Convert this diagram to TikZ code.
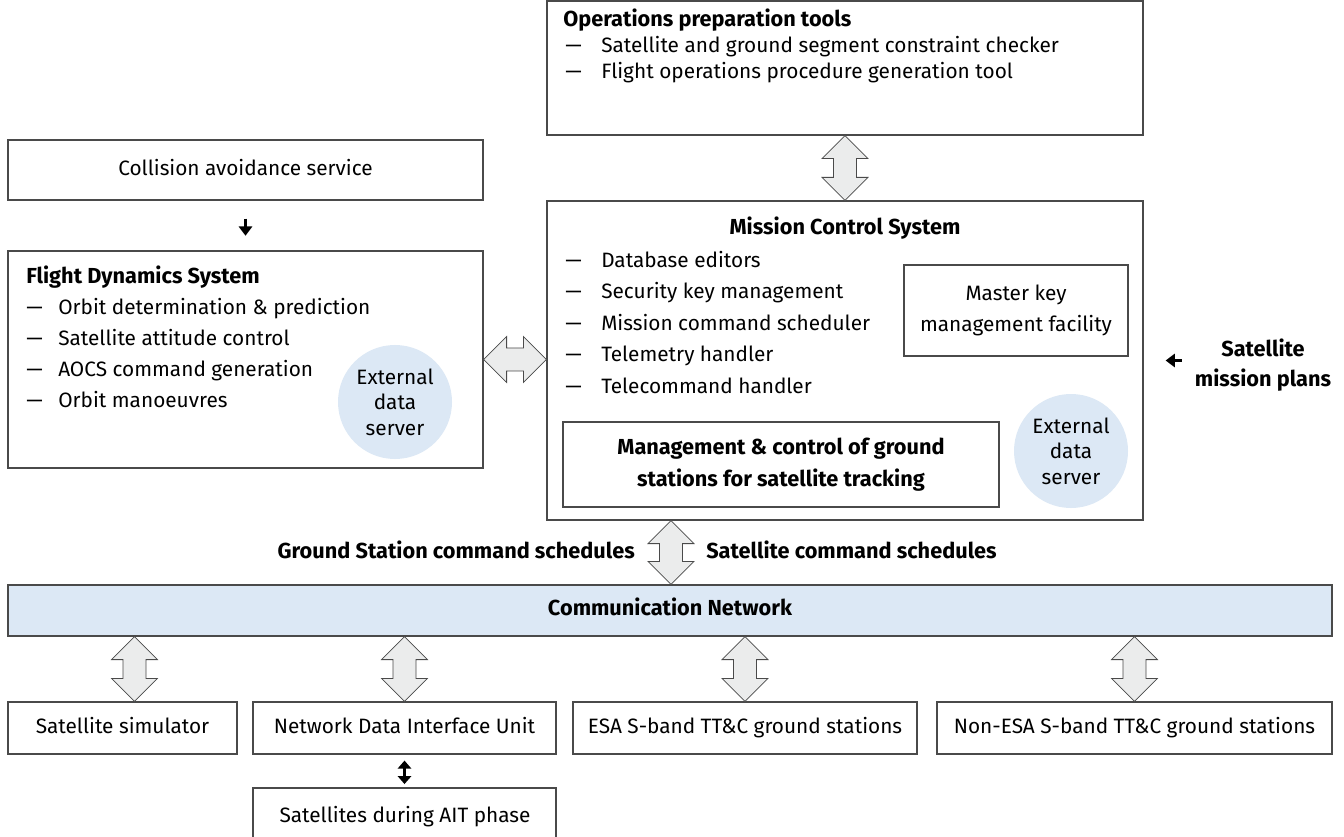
\documentclass[tikz,border=0pt]{standalone}
\usepackage{fontspec}
\setmainfont{Fira Sans}
\usetikzlibrary{positioning,arrows.meta,fit,calc}

\definecolor{netblue}{HTML}{DCE8F5}
\definecolor{arrgray}{HTML}{EBECEC}
\definecolor{edgegray}{HTML}{4A4A4A}

% hollow block arrows between two anchor points
\newcommand\vlink[2]{%
  \draw[blk] (#1) -- ($(#1)+(23,23)$) -- ($(#1)+(11.5,23)$) -- ($(#2)+(11.5,-23)$)
    -- ($(#2)+(23,-23)$) -- (#2) -- ($(#2)+(-23,-23)$) -- ($(#2)+(-11.5,-23)$)
    -- ($(#1)+(-11.5,23)$) -- ($(#1)+(-23,23)$) -- cycle;}
\newcommand\hlink[2]{%
  \draw[blk] (#1) -- ($(#1)+(23,-23)$) -- ($(#1)+(23,-11.5)$) -- ($(#2)+(-23,-11.5)$)
    -- ($(#2)+(-23,-23)$) -- (#2) -- ($(#2)+(-23,23)$) -- ($(#2)+(-23,11.5)$)
    -- ($(#1)+(23,11.5)$) -- ($(#1)+(23,23)$) -- cycle;}

\begin{document}
\begin{tikzpicture}
  [x=0.75pt,y=-0.75pt,
   every node/.style={font=\fontsize{15.6}{19}\selectfont, inner sep=0pt},
   oneline/.style={text height=11.5pt, text depth=3.5pt},
   box/.style={draw=edgegray, line width=0.9pt, fill=white, inner sep=0pt},
   bar/.style={box, fill=netblue},
   srv/.style={circle, fill=netblue, minimum size=85.5pt, align=center,
     font=\fontsize{15.6}{19}\selectfont},
   item/.style={oneline, anchor=west},
   head/.style={oneline, font=\fontsize{16.3}{19}\bfseries},
   blk/.style={draw=edgegray, fill=arrgray, line width=0.6pt, line join=miter},
   tip/.style={line width=2pt, -{Triangle[length=7pt,width=10pt]}},
   tips/.style={line width=2pt, {Triangle[length=6pt,width=10pt]}-{Triangle[length=6pt,width=10pt]}}]

  \clip (0,0) rectangle (1344,837);

  % operations preparation
  \node[box, fit={(547,1) (1143,135)}] (ops) {};
  \node[head, anchor=west] (opst) at (563,21) {Operations preparation tools};
  \node[item] (ops1) at (565,47) {\makebox[27pt][l]{—}Satellite and ground segment constraint checker};
  \node[item] (ops2) at (565,73) {\makebox[27pt][l]{—}Flight operations procedure generation tool};

  % collision avoidance and flight dynamics
  \node[box, fit={(8,140) (483,200)}] (col) {};
  \node[oneline] (colt) at (col.center) {Collision avoidance service};

  \node[box, fit={(8,251) (483,468)}] (fds) {};
  \node[head, anchor=west] (fdst) at (26,278) {Flight Dynamics System};
  \node[item] (fds1) at (26,309) {\makebox[24pt][l]{—}Orbit determination \& prediction};
  \node[item] (fds2) at (26,340) {\makebox[24pt][l]{—}Satellite attitude control};
  \node[item] (fds3) at (26,371) {\makebox[24pt][l]{—}AOCS command generation};
  \node[item] (fds4) at (26,402) {\makebox[24pt][l]{—}Orbit manoeuvres};
  \node[srv] (fdssrv) at (395,402) {External\\data\\server};

  % mission control system
  \node[box, fit={(547,201) (1143,520)}] (mcs) {};
  \node[head] (mcst) at (845,229) {Mission Control System};
  \node[item] (mcs1) at (565,262) {\makebox[27pt][l]{—}Database editors};
  \node[item] (mcs2) at (565,293.5) {\makebox[27pt][l]{—}Security key management};
  \node[item] (mcs3) at (565,325) {\makebox[27pt][l]{—}Mission command scheduler};
  \node[item] (mcs4) at (565,356.5) {\makebox[27pt][l]{—}Telemetry handler};
  \node[item] (mcs5) at (565,388) {\makebox[27pt][l]{—}Telecommand handler};

  \node[box, fit={(904,265) (1128,356)}] (key) {};
  \node[align=center, font=\fontsize{15.6}{23.25}\selectfont] (keyt) at (key.center)
    {Master key\\management facility};

  \node[box, fit={(563,422) (999,507)}] (gsm) {};
  \node[align=center, font=\fontsize{16.3}{24}\bfseries] (gsmt) at (gsm.center)
    {Management \& control of ground\\stations for satellite tracking};
  \node[srv] (mcssrv) at (1071,451) {External\\data\\server};

  % mission plans input
  \node[align=center, font=\fontsize{16.3}{22.5}\bfseries] (smp) at (1263,365)
    {Satellite\\mission plans};
  \draw[tip, shorten <=9.75pt, shorten >=16.5pt] (smp.west |- mcs.east) -- (mcs.east);

  % communication network
  \node[bar, fit={(8,585) (1332,636)}] (net) {};
  \node[head] (nett) at (net.center) {Communication Network};
  \node[head, anchor=east] (gscs) at (635,553) {Ground Station command schedules};
  \node[head, anchor=west] (satcs) at (706,553) {Satellite command schedules};

  % ground segment elements
  \node[box, fit={(8,702) (237,754)}] (sim) {};
  \node[oneline] (simt) at (sim.center) {Satellite simulator};
  \node[box, fit={(253,702) (556,754)}] (ndiu) {};
  \node[oneline] (ndiut) at (ndiu.center) {Network Data Interface Unit};
  \node[box, fit={(573,702) (917,754)}] (esa) {};
  \node[oneline] (esat) at (esa.center) {ESA S-band TT\&C ground stations};
  \node[box, fit={(937,702) (1332,754)}] (nesa) {};
  \node[oneline] (nesat) at (nesa.center) {Non-ESA S-band TT\&C ground stations};
  \node[box, fit={(253,788) (556,850)}] (ait) {};
  \node[oneline] (aitt) at (405,817) {Satellites during AIT phase};

  % links
  \draw[tip, shorten <=13.5pt, shorten >=11pt] (col.south) -- (fds.north);
  \draw[tips, shorten <=4.5pt, shorten >=2.5pt] (ndiu.south) -- (ait.north);

  \vlink{ops.south}{mcs.north}
  \hlink{fds.east}{mcs.west |- fds.east}
  \vlink{$(mcs.south)+(-174,0)$}{$(net.north)+(1,0)$}
  \vlink{$(net.south -| sim.north)+(12,0)$}{$(sim.north)+(12,0)$}
  \vlink{net.south -| ndiu.north}{ndiu.north}
  \vlink{net.south -| esa.north}{esa.north}
  \vlink{net.south -| nesa.north}{nesa.north}
\end{tikzpicture}
\end{document}
